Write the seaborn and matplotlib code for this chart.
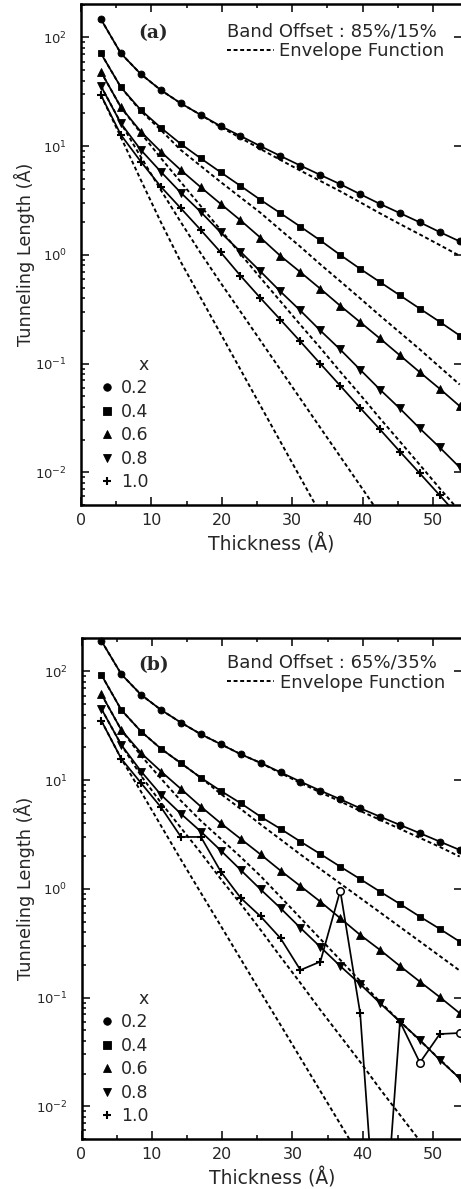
import matplotlib
matplotlib.use("Agg")
import matplotlib.pyplot as plt
import seaborn as sns
import numpy as np
from matplotlib.lines import Line2D
from matplotlib.ticker import LogLocator, MultipleLocator, NullFormatter

# ---------------- data ----------------
thickness = [2.83, 5.66, 8.49, 11.32, 14.15, 16.98, 19.81, 22.64, 25.47, 28.30,
             31.13, 33.96, 36.79, 39.62, 42.45, 45.28, 48.11, 50.94, 53.77]
x_labels = ["0.2", "0.4", "0.6", "0.8", "1.0"]

# panel (a): band offset 85%/15%  -- full calculation (solid, with markers)
a_02 = [147, 71.3, 46.0, 32.8, 24.8, 19.4, 15.3, 12.4, 10.0, 8.13, 6.63, 5.44, 4.47, 3.62, 2.94, 2.42, 1.99, 1.62, 1.33]
a_04 = [71.3, 34.8, 21.5, 14.8, 10.5, 7.74, 5.76, 4.31, 3.21, 2.42, 1.82, 1.36, 1.00, 0.745, 0.562, 0.424, 0.320, 0.242, 0.181]
a_06 = [48.3, 22.8, 13.6, 8.91, 6.04, 4.20, 2.95, 2.08, 1.44, 0.98, 0.695, 0.489, 0.341, 0.241, 0.170, 0.119, 0.0832, 0.0586, 0.0406]
a_08 = [35.7, 16.2, 9.23, 5.83, 3.74, 2.49, 1.61, 1.07, 0.705, 0.461, 0.308, 0.202, 0.135, 0.0881, 0.0577, 0.0386, 0.0253, 0.0169, 0.0111]
a_10 = [29.5, 12.7, 7.21, 4.25, 2.69, 1.70, 1.06, 0.643, 0.401, 0.254, 0.160, 0.100, 0.0628, 0.0392, 0.0248, 0.0155, 0.00977, 0.00614, 0.00385]
# panel (a): envelope function (dashed)
a_env_02 = [147, 71.3, 46.0, 32.8, 24.8, 19.4, 15.0, 11.9, 9.42, 7.47, 5.96, 4.79, 3.85, 3.05, 2.41, 1.92, 1.54, 1.23, 0.98]
a_env_04 = [71.3, 34.8, 21.0, 14.1, 9.23, 6.58, 4.69, 3.38, 2.44, 1.70, 1.19, 0.820, 0.573, 0.399, 0.276, 0.193, 0.135, 0.0929, 0.0641]
a_env_06 = [48.3, 22.8, 13.2, 7.79, 4.69, 2.82, 1.70, 1.02, 0.616, 0.375, 0.228, 0.140, 0.0845, 0.0519, 0.0313, 0.0192, 0.0117, 0.00711, 0.00438]
a_env_08 = [35.7, 16.3, 7.96, 3.96, 2.01, 1.04, 0.555, 0.301, 0.163, 0.0881, 0.0477, 0.0258, 0.0140, 0.00759, 0.00410]
a_env_10 = [29.5, 12.1, 4.89, 2.01, 0.865, 0.404, 0.189, 0.0881, 0.0411, 0.0192, 0.00898, 0.00420]

# panel (b): band offset 65%/35%
b_02 = [191, 94.2, 60.8, 44.2, 33.8, 26.4, 21.4, 17.3, 14.4, 11.8, 9.69, 8.00, 6.67, 5.51, 4.61, 3.87, 3.25, 2.72, 2.28]
b_04 = [92.9, 44.2, 27.9, 19.4, 14.3, 10.5, 7.96, 6.13, 4.61, 3.56, 2.72, 2.09, 1.60, 1.23, 0.942, 0.726, 0.555, 0.428, 0.327]
b_06 = [61.7, 28.9, 17.7, 12.0, 8.29, 5.70, 4.01, 2.88, 2.07, 1.47, 1.06, 0.762, 0.537, 0.377, 0.274, 0.195, 0.140, 0.101, 0.0718]
b_08 = [45.2, 21.1, 12.0, 7.31, 4.89, 3.36, 2.25, 1.49, 0.987, 0.664, 0.437, 0.292, 0.195, 0.133, 0.0887, 0.0600, 0.0407, 0.0267, 0.0181]
b_10 = [35.1, 15.7, 9.36, 5.61, 3.00, 3.00, 1.44, 0.824, 0.557, 0.351, 0.179, 0.214, 0.962, 0.0718, 0.000191, 0.0600, 0.0252, 0.0462, 0.0472]
b_10_open = [False] * 12 + [True, False, False, False, True, False, True]
b_env_02 = [191, 94.2, 60.8, 44.2, 33.8, 26.4, 21.4, 17.3, 14.4, 11.6, 9.42, 7.71, 6.37, 5.21, 4.31, 3.56, 2.94, 2.43, 1.98]
b_env_04 = [92.9, 44.2, 27.9, 19.4, 14.3, 10.5, 7.46, 5.43, 3.91, 2.85, 2.07, 1.52, 1.12, 0.825, 0.607, 0.446, 0.328, 0.241, 0.177]
b_env_06 = [61.7, 28.9, 16.7, 10.3, 6.44, 4.22, 2.88, 1.96, 1.31, 0.842, 0.540, 0.346, 0.222, 0.142, 0.0912, 0.0603, 0.0403, 0.0270, 0.0180]
b_env_08 = [45.2, 21.1, 10.9, 6.17, 3.63, 2.14, 1.23, 0.726, 0.419, 0.237, 0.136, 0.0769, 0.0444, 0.0256, 0.0144, 0.00832, 0.00480]
b_env_10 = [35.1, 15.7, 7.78, 3.79, 1.85, 0.916, 0.456, 0.226, 0.112, 0.0560, 0.0278, 0.0138, 0.00687, 0.00341]

offset_a = "Band Offset : 85%/15%"
offset_b = "Band Offset : 65%/35%"
env_label = "Envelope Function"

# ---------------- style ----------------
sns.set_style("ticks")
plt.rcParams["font.family"] = ["DejaVu Sans"]
plt.rcParams["mathtext.fontset"] = "dejavusans"

markers = ["o", "s", "^", "v", "+"]
msizes = [5.0, 4.8, 5.6, 5.6, 6.0]
DASH = (0, (2.0, 1.4))

fig = plt.figure(figsize=(4.61, 11.89), dpi=100)
W, H = 461.0, 1189.0
ax_a = fig.add_axes([81 / W, 1 - 505 / H, 381 / W, 501.5 / H])
ax_b = fig.add_axes([81.5 / W, 1 - 1139 / H, 380.5 / W, 501.5 / H])


def draw(ax, solids, envs, offset_text, panel_text, text_y, env_y, open_flags=None):
    for e in envs:
        sns.lineplot(x=thickness[:len(e)], y=e, ax=ax, color="k", lw=1.4,
                     linestyle=DASH, sort=False, estimator=None)
    for s, mk, ms in zip(solids, markers, msizes):
        sns.lineplot(x=thickness[:len(s)], y=s, ax=ax, color="k", lw=1.25,
                     marker=mk, markersize=ms, markeredgecolor="k",
                     markerfacecolor="k", markeredgewidth=1.5 if mk == "+" else 0.6,
                     sort=False, estimator=None)
    if open_flags is not None:
        xs = [t for t, f in zip(thickness, open_flags) if f]
        ys = [v for v, f in zip(solids[-1], open_flags) if f]
        ax.plot(xs, ys, ls="none", marker="o", ms=5.4, mfc="white", mec="k", mew=1.1)
    ax.set_yscale("log")
    ax.set_xlim(0, 54.1)
    ax.set_ylim(5e-3, 2.05e2)
    ax.xaxis.set_major_locator(MultipleLocator(10))
    ax.xaxis.set_minor_locator(MultipleLocator(5))
    ax.yaxis.set_major_locator(LogLocator(base=10, numticks=12))
    ax.yaxis.set_minor_locator(LogLocator(base=10, subs=np.arange(2, 10), numticks=12))
    ax.yaxis.set_minor_formatter(NullFormatter())
    ax.tick_params(which="both", direction="in", top=True, right=True, width=1.1, color="k")
    ax.tick_params(which="major", length=5.5)
    ax.tick_params(which="minor", length=3)
    ax.tick_params(axis="y", which="minor", right=False)
    ax.tick_params(axis="y", which="major", labelsize=9.5, pad=10)
    ax.tick_params(axis="x", which="major", labelsize=11.5, pad=6)
    for sp in ax.spines.values():
        sp.set_linewidth(1.8)
        sp.set_color("k")
    ax.set_xlabel("Thickness (Å)", fontsize=13.5, labelpad=4)
    ax.set_ylabel("Tunneling Length (Å)", fontsize=12.7, labelpad=0.5)

    ax.text(0.383, text_y, offset_text, transform=ax.transAxes, fontsize=13,
            ha="left", va="center")
    ax.text(0.15, text_y - 0.004, panel_text, transform=ax.transAxes, fontsize=13.5,
            family="DejaVu Serif", fontweight="bold", ha="left", va="center")

    handles = [Line2D([], [], ls="none", marker=mk, color="k", ms=ms + 0.4,
                      mew=1.5 if mk == "+" else 0.6) for mk, ms in zip(markers, msizes)]
    leg = ax.legend(handles, x_labels, title="x", loc="upper left",
                    bbox_to_anchor=(0.05, 0.297), frameon=False, fontsize=12.5,
                    title_fontsize=12.5, handlelength=0.8, handletextpad=0.4,
                    labelspacing=0.31, borderpad=0, borderaxespad=0, alignment="right")
    ax.add_artist(leg)
    ax.legend([Line2D([], [], ls=DASH, color="k", lw=1.4)], [env_label],
              loc="upper left", bbox_to_anchor=(0.383, env_y), frameon=False,
              fontsize=13, handlelength=2.6, handletextpad=0.3,
              borderpad=0, borderaxespad=0)


draw(ax_a, [a_02, a_04, a_06, a_08, a_10],
     [a_env_02, a_env_04, a_env_06, a_env_08, a_env_10],
     offset_a, "(a)", 0.945, 0.923)
draw(ax_b, [b_02, b_04, b_06, b_08, b_10],
     [b_env_02, b_env_04, b_env_06, b_env_08, b_env_10],
     offset_b, "(b)", 0.950, 0.928, open_flags=b_10_open)

fig.savefig("out.png", dpi=100)
